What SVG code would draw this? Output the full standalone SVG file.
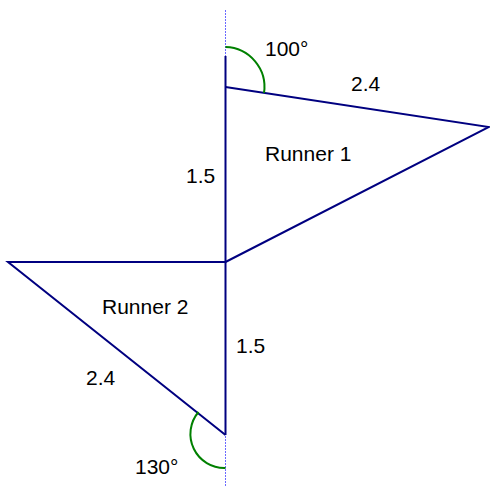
<svg xmlns="http://www.w3.org/2000/svg" width="490" height="487" viewBox="0 0 490 487">
<style>
.edge{stroke:#000080;stroke-width:2;fill:none;stroke-linecap:butt}
.arc{stroke:#008000;stroke-width:2;fill:none}
.axis{stroke:#6a6aff;stroke-width:1;stroke-dasharray:2 1;fill:none}
.lbl{font-family:"Liberation Sans",Arial,sans-serif;font-size:21px;fill:#000}
</style>
<rect width="490" height="487" fill="#fff"/>
<g id="connectors">
<line class="axis" x1="225.5" y1="10" x2="225.5" y2="487"/>
<line class="edge" x1="225.5" y1="56" x2="225.5" y2="435"/>
</g>
<g id="runner1">
<polyline class="edge" points="225.5,87 489,127 225.5,262"/>
<path class="arc" d="M225.5,47 A40,40 0 0 1 264,93"/>
<text class="lbl" x="265" y="56">100°</text>
<text class="lbl" x="351" y="91">2.4</text>
<text class="lbl" x="265" y="161">Runner 1</text>
<text class="lbl" x="186" y="183">1.5</text>
</g>
<g id="runner2">
<polyline class="edge" points="225.5,262 8,262 225.5,435"/>
<path class="arc" d="M225.5,468 A34,34 0 0 1 198.5,412"/>
<text class="lbl" x="102" y="314">Runner 2</text>
<text class="lbl" x="236" y="353">1.5</text>
<text class="lbl" x="86" y="385">2.4</text>
<text class="lbl" x="135" y="474">130°</text>
</g>
</svg>
